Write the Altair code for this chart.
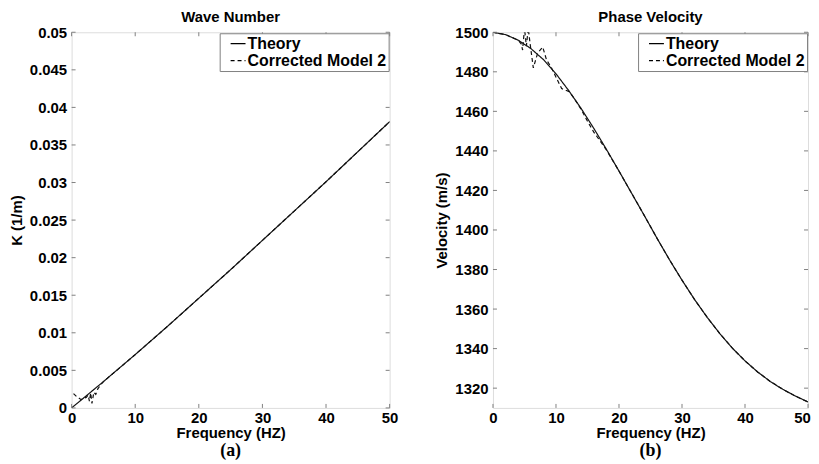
import altair as alt
import pandas as pd

# ---------------- data ----------------
freq_theory = [0, 2, 4, 6, 8, 10, 12, 14, 16, 18, 20, 22, 24, 26, 28, 30, 32, 34, 36, 38, 40, 42, 44, 46, 48, 50]
vel_theory = [1500, 1498.8, 1496.0, 1491.8, 1486.2, 1479.0, 1470.6, 1461.4, 1451.4, 1440.8, 1429.8, 1418.6,
              1407.4, 1396.0, 1385.0, 1374.6, 1364.8, 1355.8, 1347.6, 1340.2, 1333.8, 1328.2, 1323.4, 1319.4,
              1316.0, 1313.0]

freq_k = [0, 5, 10, 15, 20, 25, 30, 35, 40, 45, 50]
k_theory = [0, 0.0035, 0.0071, 0.0108, 0.0146, 0.0184, 0.0223, 0.0262, 0.0301, 0.0341, 0.0381]

freq_k_model = [0.3, 0.8, 1.5, 1.9, 2.3, 2.6, 2.8, 3.0, 3.2, 3.5, 3.8, 4.1, 4.5, 5, 10, 15, 20, 25, 30, 35, 40, 45, 50]
k_model = [0.0019, 0.0015, 0.0011, 0.0013, 0.0014, 0.0017, 0.0009, 0.0020, 0.0006, 0.0021, 0.0018, 0.0025,
           0.0030, 0.0035, 0.0071, 0.0108, 0.0146, 0.0184, 0.0223, 0.0262, 0.0301, 0.0341, 0.0381]

freq_v_model = [0, 2, 4, 4.5, 4.7, 5.0, 5.3, 5.6, 5.9, 6.4, 7.1, 7.9, 8.5, 9.2, 10.2, 10.9, 12.1, 13, 14, 15, 16,
                17, 18, 20, 22, 24, 26, 28, 30, 32, 34, 36, 38, 40, 42, 44, 46, 48, 50]
vel_model = [1500, 1498.8, 1496, 1494, 1491, 1502, 1493, 1502, 1494, 1482, 1489.5, 1492.5, 1486, 1482.5, 1476,
             1471.5, 1470, 1466, 1461, 1455, 1449.5, 1445, 1440.5, 1429.8, 1418.6, 1407.4, 1396.0, 1385.0,
             1374.6, 1364.8, 1355.8, 1347.6, 1340.2, 1333.8, 1328.2, 1323.4, 1319.4, 1316.0, 1313.0]

x_ticks = [0, 10, 20, 30, 40, 50]
k_ticks = [0, 0.005, 0.01, 0.015, 0.02, 0.025, 0.03, 0.035, 0.04, 0.045, 0.05]
v_ticks = [1320, 1340, 1360, 1380, 1400, 1420, 1440, 1460, 1480, 1500]

series_names = ["Theory", "Corrected Model 2"]

FONT = "Liberation Sans"
GRAY = "#808080"


def panel(f_th, y_th, f_md, y_md, yticks, ydomain, ytitle, yfmt, title, tag, W, H, last_shift):
    df = pd.concat([
        pd.DataFrame({"f": f_th, "y": y_th, "s": series_names[0]}),
        pd.DataFrame({"f": f_md, "y": y_md, "s": series_names[1]}),
    ])
    xs = alt.Scale(domain=[0, 50], nice=False, zero=False)
    ys = alt.Scale(domain=ydomain, nice=False, zero=False)
    xax = alt.Axis(
        title="Frequency (HZ)", values=x_ticks, ticks=False, grid=False, domain=False,
        labelFont=FONT, labelFontSize=15, labelFontWeight="bold", labelColor="black",
        labelFlush=False, labelPadding=3,
        labelOffset={"condition": {"test": "datum.value == 50", "value": last_shift}, "value": 0},
        titleFont=FONT, titleFontSize=15, titleFontWeight="bold", titleColor="black",
        titlePadding=0)
    yax = alt.Axis(
        title=ytitle, values=yticks, format=yfmt, ticks=False, grid=False, domain=False,
        labelFont=FONT, labelFontSize=15, labelFontWeight="bold", labelColor="black",
        labelFlush=False, labelPadding=5,
        titleFont=FONT, titleFontSize=15, titleFontWeight="bold", titleColor="black",
        titlePadding=5)
    lines = alt.Chart(df).mark_line(clip=True, color="#111111", strokeWidth=1.2).encode(
        x=alt.X("f:Q", scale=xs, axis=xax),
        y=alt.Y("y:Q", scale=ys, axis=yax),
        strokeDash=alt.StrokeDash("s:N", scale=alt.Scale(domain=series_names, range=[[1, 0], [4, 3]]),
                                  sort=series_names,
                                  legend=alt.Legend(
                                      title=None, orient="top-right", offset=1,
                                      strokeColor=GRAY, fillColor="white", padding=2,
                                      labelFont=FONT, labelFontSize=16, labelFontWeight="bold",
                                      labelColor="black", labelOffset=1, symbolOffset=8,
                                      symbolType="stroke", symbolSize=225, symbolStrokeWidth=1.2,
                                      symbolStrokeColor="black", rowPadding=0)),
        detail="s:N",
    )
    xt = pd.DataFrame({"f": x_ticks})
    yt = pd.DataFrame({"y": yticks})
    tick_style = dict(color=GRAY, strokeWidth=1)
    xb = alt.Chart(xt).mark_rule(**tick_style).encode(
        x=alt.X("f:Q", scale=xs, axis=xax), y=alt.value(H), y2=alt.value(H - 4))
    xtop = alt.Chart(xt).mark_rule(**tick_style).encode(
        x=alt.X("f:Q", scale=xs, axis=xax), y=alt.value(0), y2=alt.value(4))
    yl = alt.Chart(yt).mark_rule(**tick_style).encode(
        y=alt.Y("y:Q", scale=ys, axis=yax), x=alt.value(0), x2=alt.value(4))
    yr = alt.Chart(yt).mark_rule(**tick_style).encode(
        y=alt.Y("y:Q", scale=ys, axis=yax), x=alt.value(W - 4), x2=alt.value(W))
    lab = alt.Chart(pd.DataFrame({"t": [tag]})).mark_text(
        font="Liberation Serif", fontSize=18, fontWeight="bold", color="black", baseline="middle"
    ).encode(text="t:N", x=alt.value(W / 2), y=alt.value(H + 43))
    return alt.layer(lines, xb, xtop, yl, yr, lab).properties(
        width=W, height=H,
        title=alt.TitleParams(title, font=FONT, fontSize=15, fontWeight="bold", color="black", offset=0),
    )


left = panel(freq_k, k_theory, freq_k_model, k_model, k_ticks, [0, 0.05], "K (1/m)", ".3~f",
             "Wave Number", "(a)", 320, 378, 0)
right = panel(freq_theory, vel_theory, freq_v_model, vel_model, v_ticks, [1310, 1500], "Velocity (m/s)", "d",
              "Phase Velocity", "(b)", 317, 378, -6)

chart = alt.hconcat(left, right, spacing=36).resolve_scale(
    strokeDash="independent"
).resolve_legend(strokeDash="independent").properties(
    padding={"left": 0, "top": 0, "right": 0, "bottom": 0}
).configure_view(stroke=GRAY, strokeWidth=1).configure(background="white")

chart.save("out.html", embed_options={"renderer": "svg", "actions": False})
